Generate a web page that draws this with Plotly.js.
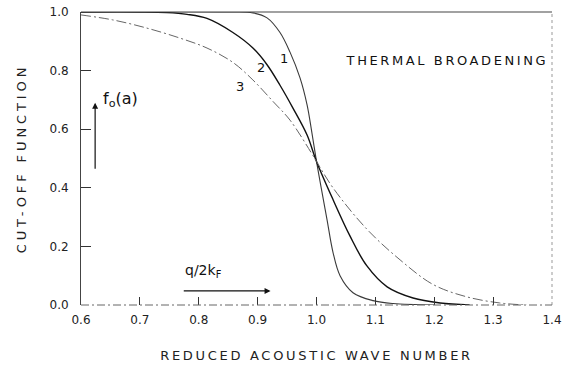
<!DOCTYPE html>
<html>
<head>
<meta charset="utf-8">
<script src="https://cdn.plot.ly/plotly-3.0.1.min.js"></script>
<style>
html,body{margin:0;padding:0;background:#fff;}
#chart{width:564px;height:373px;}
.xtitle{letter-spacing:2.7px;}
.ytitle{letter-spacing:3.9px;}
</style>
</head>
<body>
<div id="chart"></div>
<script>
// Curve 1 (narrowest broadening)
var x1 = [0.60, 0.85, 0.892, 0.916, 0.938, 0.955, 0.972, 0.984, 0.992, 1.0, 1.008, 1.018, 1.028, 1.04, 1.062, 1.096, 1.13, 1.2];
var y1 = [1.0, 1.0, 0.997, 0.98, 0.93, 0.863, 0.775, 0.683, 0.59, 0.49, 0.40, 0.29, 0.18, 0.10, 0.042, 0.015, 0.005, 0.0];
// Curve 2
var x2 = [0.60, 0.70, 0.746, 0.78, 0.814, 0.858, 0.892, 0.916, 0.938, 0.96, 0.984, 1.0, 1.028, 1.057, 1.085, 1.12, 1.164, 1.21, 1.26];
var y2 = [1.0, 1.0, 0.998, 0.992, 0.978, 0.93, 0.877, 0.82, 0.75, 0.672, 0.58, 0.49, 0.36, 0.235, 0.135, 0.062, 0.024, 0.007, 0.0];
// Curve 3 (widest broadening)
var x3 = [0.60, 0.654, 0.712, 0.768, 0.814, 0.858, 0.892, 0.926, 0.955, 0.994, 1.0, 1.028, 1.085, 1.142, 1.198, 1.255, 1.311, 1.357];
var y3 = [0.99, 0.973, 0.945, 0.911, 0.877, 0.828, 0.768, 0.695, 0.631, 0.51, 0.49, 0.40, 0.26, 0.154, 0.07, 0.028, 0.007, 0.0];

var xTicks = [0.6, 0.7, 0.8, 0.9, 1.0, 1.1, 1.2, 1.3, 1.4];
var xTickText = ['0.6', '0.7', '0.8', '0.9', '1.0', '1.1', '1.2', '1.3', '1.4'];
var yTicks = [0.0, 0.2, 0.4, 0.6, 0.8, 1.0];
var yTickText = ['0.0', '0.2', '0.4', '0.6', '0.8', '1.0'];
var curveLabels = ['1', '2', '3'];

var font = 'DejaVu Sans, Liberation Sans, sans-serif';

var traces = [
  {x: x1, y: y1, mode: 'lines', line: {color: '#3a3a3a', width: 1.1, shape: 'spline', smoothing: 1}, hoverinfo: 'skip'},
  {x: x2, y: y2, mode: 'lines', line: {color: '#111', width: 1.4, shape: 'spline', smoothing: 1}, hoverinfo: 'skip'},
  {x: x3, y: y3, mode: 'lines', line: {color: '#666', width: 1, dash: '10px,3px,2px,3px', shape: 'spline', smoothing: 1}, hoverinfo: 'skip'}
];

var layout = {
  width: 564, height: 373,
  margin: {l: 81, r: 12, t: 12, b: 68},
  paper_bgcolor: '#fff', plot_bgcolor: '#fff',
  showlegend: false,
  font: {family: font, color: '#222', size: 12},
  xaxis: {
    range: [0.6, 1.4], tickvals: xTicks, ticktext: xTickText,
    ticks: 'inside', ticklen: 8, tickwidth: 1, tickcolor: '#333',
    showline: false, showgrid: false, zeroline: false,
    ticklabelstandoff: 6,
    tickfont: {family: font, size: 12, color: '#222'},
    title: {text: 'REDUCED ACOUSTIC WAVE NUMBER', font: {family: font, size: 13, color: '#222'}, standoff: 24}
  },
  yaxis: {
    range: [0, 1.0], tickvals: yTicks, ticktext: yTickText,
    ticks: 'inside', ticklen: 10, tickwidth: 1, tickcolor: '#333',
    showline: true, linecolor: '#444', linewidth: 1,
    showgrid: false, zeroline: false,
    ticklabelstandoff: 9,
    tickfont: {family: font, size: 12, color: '#222'},
    title: {text: 'CUT-OFF FUNCTION', font: {family: font, size: 13, color: '#222'}, standoff: 19}
  },
  shapes: [
    {type: 'line', xref: 'paper', yref: 'paper', x0: 0, x1: 1, y0: 1, y1: 1, line: {color: '#444', width: 1.2}},
    {type: 'line', xref: 'paper', yref: 'paper', x0: 1, x1: 1, y0: 0, y1: 1, line: {color: '#999', width: 1, dash: 'dot'}},
    {type: 'line', xref: 'paper', yref: 'paper', x0: 0, x1: 1, y0: 0, y1: 0, line: {color: '#666', width: 1, dash: '8px,3px,2px,3px'}}
  ],
  annotations: [
    {x: 0.945, y: 0.84, xref: 'x', yref: 'y', text: curveLabels[0], showarrow: false, font: {family: font, size: 13, color: '#111'}},
    {x: 0.905, y: 0.81, xref: 'x', yref: 'y', text: curveLabels[1], showarrow: false, font: {family: font, size: 13, color: '#111'}},
    {x: 0.87, y: 0.745, xref: 'x', yref: 'y', text: curveLabels[2], showarrow: false, font: {family: font, size: 13, color: '#111'}},
    {x: 1.221, y: 0.835, xref: 'x', yref: 'y', text: 'THERMAL BROADENING', showarrow: false, font: {family: font, size: 13, color: '#111'}},
    {x: 0.634, y: 0.70, xref: 'x', yref: 'y', xanchor: 'left', text: 'f<sub>o</sub>(a)', showarrow: false, font: {family: font, size: 16, color: '#111'}},
    {x: 0.624, y: 0.69, ax: 0.624, ay: 0.46, xref: 'x', yref: 'y', axref: 'x', ayref: 'y', text: '', showarrow: true, arrowhead: 2, arrowsize: 1, arrowwidth: 1.2, arrowcolor: '#111'},
    {x: 0.774, y: 0.115, xref: 'x', yref: 'y', xanchor: 'left', text: 'q/2k<sub>F</sub>', showarrow: false, font: {family: font, size: 14, color: '#111'}},
    {x: 0.922, y: 0.048, ax: 0.772, ay: 0.048, xref: 'x', yref: 'y', axref: 'x', ayref: 'y', text: '', showarrow: true, arrowhead: 2, arrowsize: 1, arrowwidth: 1.2, arrowcolor: '#111'}
  ]
};

Plotly.newPlot('chart', traces, layout, {staticPlot: true, displayModeBar: false}).then(function(){
  var a = document.querySelectorAll('.annotation-text');
  a.forEach(function(t){ if (t.textContent === 'THERMAL BROADENING') t.style.letterSpacing = '2.6px'; });
});
</script>
</body>
</html>
